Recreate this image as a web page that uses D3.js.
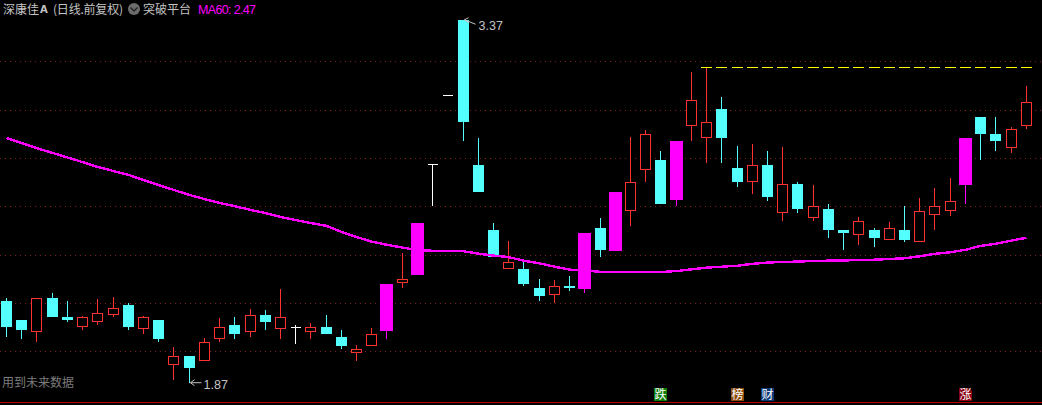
<!DOCTYPE html>
<html>
<head>
<meta charset="utf-8">
<script src="https://cdn.jsdelivr.net/npm/d3@7"></script>
<style>
html,body{margin:0;padding:0;background:#000;overflow:hidden}
svg{display:block}
text{font-family:"Noto Sans CJK SC","Liberation Sans",sans-serif;font-size:12px}
</style>
</head>
<body>
<svg id="c" width="1042" height="405"></svg>
<script>
const opens=[2.208,2.130,2.085,2.221,2.142,2.106,2.127,2.156,2.192,2.098,2.130,1.949,1.981,1.965,2.056,2.109,2.085,2.150,2.098,2.101,2.085,2.101,2.059,1.997,2.027,2.084,2.288,2.316,2.777,3.059,3.371,2.771,2.502,2.346,2.341,2.262,2.238,2.270,2.258,2.510,2.415,2.586,2.756,2.792,2.626,2.938,2.888,3.003,2.759,2.706,2.771,2.578,2.692,2.557,2.589,2.502,2.487,2.502,2.466,2.502,2.458,2.569,2.586,2.688,2.970,2.899,2.847,2.938];
const highs=[2.221,2.130,2.221,2.241,2.207,2.146,2.216,2.225,2.200,2.146,2.130,2.018,1.981,2.055,2.138,2.142,2.175,2.171,2.258,2.109,2.117,2.150,2.088,2.026,2.096,2.279,2.407,2.531,2.777,3.059,3.372,2.881,2.531,2.457,2.370,2.299,2.295,2.312,2.490,2.552,2.659,2.887,2.916,2.829,2.870,3.156,3.178,3.052,2.850,2.858,2.829,2.845,2.701,2.688,2.610,2.502,2.556,2.510,2.535,2.601,2.634,2.676,2.717,2.883,2.970,2.970,2.928,3.098];
const lows=[2.059,2.051,2.039,2.142,2.121,2.088,2.109,2.142,2.088,2.072,2.039,1.881,1.870,1.960,2.039,2.051,2.059,2.088,2.051,2.030,2.051,2.072,2.010,1.960,2.022,2.051,2.262,2.316,2.601,3.059,2.870,2.659,2.390,2.341,2.270,2.208,2.200,2.250,2.241,2.390,2.415,2.519,2.701,2.610,2.601,2.870,2.779,2.779,2.680,2.651,2.622,2.539,2.572,2.539,2.469,2.419,2.440,2.432,2.466,2.452,2.452,2.502,2.560,2.610,2.792,2.829,2.821,2.920];
const closes=[2.101,2.088,2.221,2.142,2.130,2.141,2.157,2.178,2.101,2.141,2.051,1.979,1.931,2.037,2.099,2.072,2.149,2.121,2.141,2.101,2.099,2.072,2.022,2.008,2.070,2.279,2.298,2.531,2.777,3.059,2.949,2.659,2.390,2.368,2.279,2.229,2.269,2.262,2.490,2.419,2.659,2.701,2.898,2.610,2.870,3.039,2.948,2.883,2.701,2.770,2.639,2.691,2.589,2.600,2.502,2.490,2.538,2.469,2.509,2.461,2.579,2.600,2.621,2.883,2.899,2.870,2.919,3.030];
const ma60=[2.883,2.862,2.841,2.821,2.802,2.783,2.763,2.746,2.730,2.709,2.688,2.668,2.647,2.630,2.614,2.601,2.585,2.572,2.556,2.543,2.531,2.519,2.494,2.473,2.454,2.441,2.429,2.419,2.416,2.416,2.414,2.404,2.396,2.390,2.375,2.364,2.350,2.338,2.334,2.329,2.328,2.328,2.328,2.328,2.332,2.339,2.346,2.350,2.354,2.362,2.367,2.370,2.371,2.374,2.375,2.375,2.379,2.379,2.382,2.385,2.393,2.403,2.410,2.420,2.436,2.445,2.458,2.470];
const signalDays=[25,27,38,40,44,63];
const gridPrices=[3.2,3.0,2.8,2.6,2.4,2.2,2.0];
const eventDays=[43,48,50,63];
const eventLabels=["跌","榜","财","涨"];
const eventKinds=["green","brown","blue","red"];
const resistanceStart=46, resistanceEnd=67;
const maxDay=30, minDay=12;

const W=1042,H=405;
const svg=d3.select("#c");
const idx=d3.range(opens.length);
const band=d3.scaleBand().domain(idx).range([-1.11,1033.85]);
const y=d3.scaleLinear().domain([2.0,3.2]).range([351.3,61.3]);
const cx=i=>Math.floor(band(i)+band.step()/2)+0.5;
const py=v=>Math.round(y(v));
const CY="#54ffff",RD="#ff3232",MG="#ff00ff",WH="#ffffff",TXT="#c4c4c4",NUM="Liberation Sans";

// grid via axis
const axis=d3.axisLeft(y).tickValues(gridPrices).tickSize(-W).tickFormat("");
const gAxis=svg.append("g").call(axis);
gAxis.select(".domain").remove();
gAxis.selectAll("line").attr("stroke","#7c2020").attr("stroke-dasharray","1 4").attr("shape-rendering","crispEdges");

// candles
const g=svg.append("g").attr("shape-rendering","crispEdges");
const color=i=>signalDays.includes(i)?MG:closes[i]>opens[i]?RD:closes[i]<opens[i]?CY:WH;
g.selectAll("line.w").data(idx).join("line").attr("class","w")
 .attr("x1",cx).attr("x2",cx)
 .attr("y1",i=>py(highs[i])).attr("y2",i=>py(lows[i]))
 .attr("stroke",color);
idx.forEach(i=>{
  const top=py(Math.max(opens[i],closes[i])),bot=py(Math.min(opens[i],closes[i])),x=cx(i);
  if(signalDays.includes(i)){
    g.append("rect").attr("x",x-6.5).attr("y",top).attr("width",13).attr("height",bot-top).attr("fill",MG);
  }else if(closes[i]>opens[i]){
    g.append("rect").attr("x",x-5).attr("y",top+0.5).attr("width",10).attr("height",bot-top).attr("fill","#000").attr("stroke",RD);
  }else if(closes[i]<opens[i]){
    g.append("rect").attr("x",x-5.5).attr("y",top).attr("width",11).attr("height",bot-top).attr("fill",CY);
  }else{
    g.append("line").attr("x1",x-5).attr("x2",x+5).attr("y1",top+0.5).attr("y2",top+0.5).attr("stroke",WH);
  }
});

// MA60
svg.append("path").datum(idx)
 .attr("d",d3.line().x(i=>cx(i)).y(i=>y(ma60[i])))
 .attr("fill","none").attr("stroke",MG).attr("stroke-width",2.4).attr("shape-rendering","crispEdges");

// resistance caps
const capDays=d3.range(resistanceStart,resistanceEnd+1);
svg.append("g").attr("shape-rendering","crispEdges").selectAll("rect").data(capDays).join("rect")
 .attr("x",i=>cx(i)-5.5).attr("width",11)
 .attr("y",py(highs[resistanceStart])).attr("height",1)
 .attr("fill","#ffff00");

// extreme labels
const hx=cx(maxDay),hy=y(highs[maxDay]);
svg.append("path").attr("d",`M${hx+12},${hy+4.5} L${hx+7},${hy+2.5} L${hx+1},${hy} M${hx+1},${hy} l4,-2 M${hx+1},${hy} l4,3`).attr("fill","none").attr("stroke",TXT);
svg.append("text").attr("x",hx+15).attr("y",hy+10.5).attr("fill",TXT).style("font-family",NUM).style("font-size","12.5px").text(highs[maxDay].toFixed(2));
const lx=cx(minDay),ly=y(lows[minDay]);
svg.append("path").attr("d",`M${lx+12},${ly} L${lx+1},${ly} M${lx+1},${ly} l4,-3 M${lx+1},${ly} l4,3`).attr("fill","none").attr("stroke",TXT);
svg.append("text").attr("x",lx+14).attr("y",ly+6).attr("fill",TXT).style("font-family",NUM).style("font-size","12.5px").text(lows[minDay].toFixed(2));

// header
const t=(x,yy,s,c,extra)=>{const e=svg.append("text").attr("x",x).attr("y",yy).attr("fill",c).text(s);if(extra)extra(e);return e;};
t(3,13.5,"深康佳",TXT);
t(40,13,"A",TXT,e=>e.style("font-family","DejaVu Sans").style("font-weight","bold").style("font-size","10px"));
t(53,13.5,"(日线.前复权)",TXT,e=>e.attr("textLength",70));
svg.append("circle").attr("cx",134).attr("cy",9).attr("r",6).attr("fill","#6c6c6c");
svg.append("path").attr("d","M130.5,7.5 L134,11 L137.5,7.5").attr("fill","none").attr("stroke","#222").attr("stroke-width",1.4);
t(143,13.5,"突破平台",TXT);
t(198,13.5,"MA60: 2.47",MG,e=>e.style("font-family",NUM).style("font-size","12.5px").attr("textLength",58));

t(2,386.5,"用到未来数据","#7c7c7c");

// event badges
const kindColor={green:"#0b7d0b",brown:"#8a4a0c",blue:"#0c3a78",red:"#8a0012"};
eventDays.forEach((d,k)=>{
  const x=cx(d)-6.5;
  svg.append("rect").attr("x",x).attr("y",388).attr("width",13).attr("height",13).attr("fill",kindColor[eventKinds[k]]).attr("shape-rendering","crispEdges");
  if(eventKinds[k]==="red") svg.append("path").attr("d",`M${x+10},388 L${x+13},388 L${x+13},391 Z`).attr("fill","#000");
  svg.append("text").attr("x",x+0.5).attr("y",399).attr("fill","#fff").text(eventLabels[k]);
});

// bottom line
svg.append("line").attr("x1",0).attr("x2",W).attr("y1",402.5).attr("y2",402.5).attr("stroke","#b80000");
</script>
</body>
</html>
